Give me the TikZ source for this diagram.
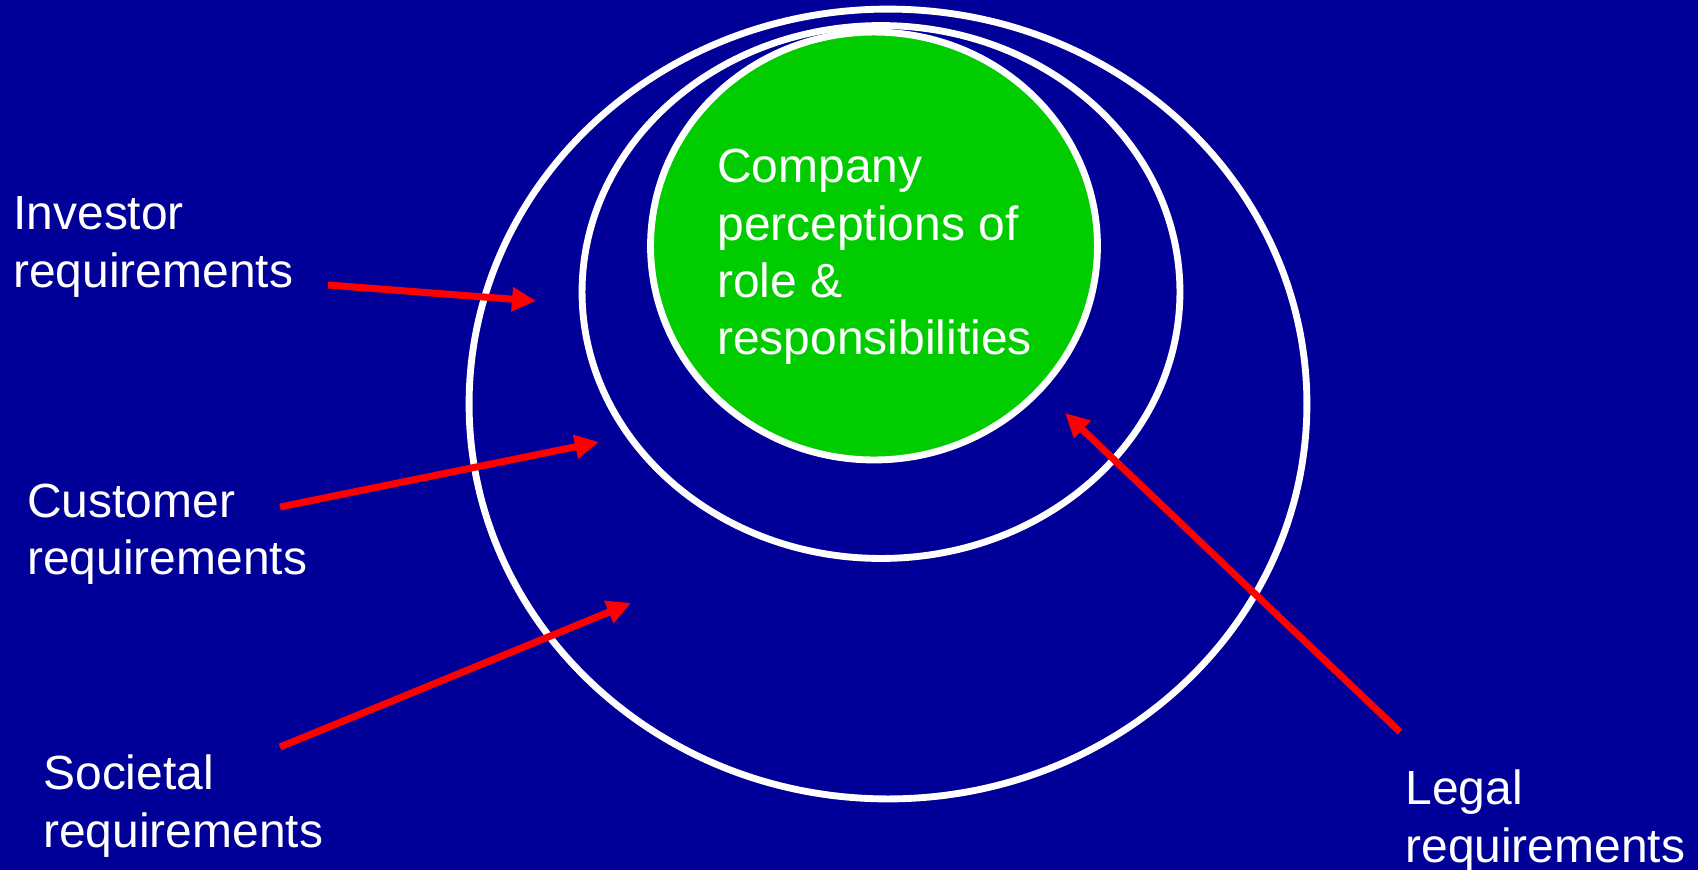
\documentclass[tikz,border=0pt]{standalone}
\usepackage{fontspec}
\setmainfont{Liberation Sans}
\usepackage{xcolor}
\usepackage{tikz}
\usetikzlibrary{positioning, shapes.geometric, arrows.meta}

\definecolor{slideblue}{RGB}{0,0,153}
\definecolor{coregreen}{RGB}{0,204,0}

\begin{document}
\begin{tikzpicture}[x=0.02cm, y=-0.02cm,
    ring/.style={ellipse, draw=white, line width=3.9pt, inner sep=0pt},
    label/.style={anchor=west, inner sep=0pt, align=left, text=white, font=\fontsize{27.3}{32.6}\selectfont},
    arrow/.style={-{Triangle[length=0.48cm, width=0.46cm]}, draw=red, line width=4pt}
]

% background and frame
\useasboundingbox (0,0) rectangle (1698,870);
\fill[slideblue] (0,0) rectangle (1698,870);

\node[ring, minimum width=16.76cm, minimum height=15.8cm] (societal) at (888,404) {};
\node[ring, minimum width=11.96cm, minimum height=10.66cm] (customer) at (881,292) {};
\node[ring, fill=coregreen, minimum width=8.94cm, minimum height=8.56cm] (company) at (874,246) {};

\node[label] (company_txt) at (717,257) {Company\\perceptions of\\role \&\\responsibilities};

\node[label] (investor) at (13,247) {Investor\\requirements};
\node[label] (customer_req) at (27,534) {Customer\\requirements};
\node[label] (societal_req) at (43,806) {Societal\\requirements};
\node[label] (legal) at (1405,821) {Legal\\requirements};

% arrow ends
\coordinate (inv_from) at (328,285);
\coordinate (inv_to) at (536,301);
\coordinate (cus_from) at (280,507);
\coordinate (cus_to) at (599,442);
\coordinate (soc_from) at (280,747);
\coordinate (soc_to) at (631,603);
\coordinate (leg_from) at (1400,732);
\coordinate (leg_to) at (1065,413);

\foreach \source/\dest in {inv_from/inv_to, cus_from/cus_to, soc_from/soc_to, leg_from/leg_to}
    \draw[arrow] (\source) -- (\dest);

\end{tikzpicture}
\end{document}
